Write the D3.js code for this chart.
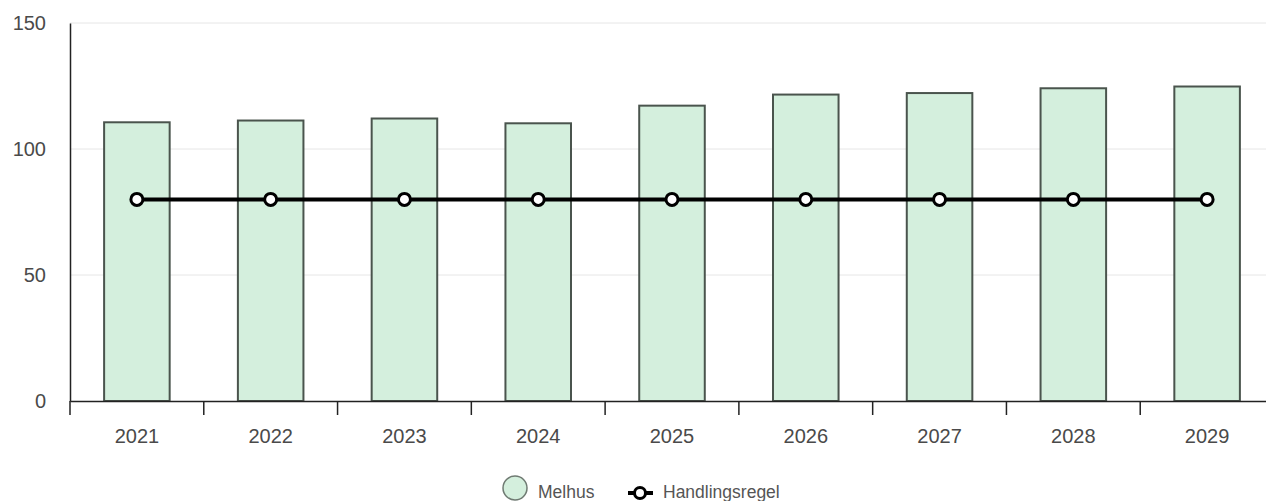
<!DOCTYPE html>
<html>
<head>
<meta charset="utf-8">
<script src="https://cdn.jsdelivr.net/npm/d3@7"></script>
<style>
body{margin:0;background:#fff;overflow:hidden;}
text{font-family:"Liberation Sans",Arial,sans-serif;}
</style>
</head>
<body>
<script>
// data
var years = ["2021","2022","2023","2024","2025","2026","2027","2028","2029"];
var melhus = [110.6, 111.3, 112.1, 110.2, 117.2, 121.6, 122.2, 124.1, 124.8];
var regel = [80, 80, 80, 80, 80, 80, 80, 80, 80];
var yTicks = [0, 50, 100, 150];
var legendNames = ["Melhus", "Handlingsregel"];

var W = 1266, H = 501;
var mLeft = 70, mRight = 1274, mTop = 23, mBottom = 401;

var svg = d3.select("body").append("svg")
    .attr("width", W)
    .attr("height", H);

var x = d3.scaleBand().domain(years).range([mLeft, mRight]).padding(0);
var y = d3.scaleLinear().domain([0, 150]).range([mBottom, mTop]);
var barW = x.bandwidth() * 0.49;

// grid
svg.append("g").selectAll("line")
    .data(yTicks.slice(1))
    .enter().append("line")
    .attr("x1", mLeft).attr("x2", W)
    .attr("y1", function(d){return y(d);})
    .attr("y2", function(d){return y(d);})
    .attr("stroke", "#e6e6e6")
    .attr("stroke-width", 1);

// bars
svg.append("g").selectAll("rect")
    .data(melhus)
    .enter().append("rect")
    .attr("x", function(d,i){return x(years[i]) + x.bandwidth()/2 - barW/2;})
    .attr("y", function(d){return y(d);})
    .attr("width", barW)
    .attr("height", function(d){return y(0) - y(d);})
    .attr("fill", "#d4efdd")
    .attr("stroke", "#4a544d")
    .attr("stroke-width", 2);

// y axis
var yAxis = svg.append("g")
    .attr("transform", "translate(" + mLeft + ",0)")
    .call(d3.axisLeft(y).tickValues(yTicks).tickSize(0).tickPadding(24));
yAxis.select(".domain").attr("stroke", "#222").attr("stroke-width", 1.5);
yAxis.selectAll("text").attr("font-size", 20).attr("fill", "#4a4a4a")
    .attr("font-family", "Liberation Sans, Arial, sans-serif")
    .attr("dy", "0.32em");

// x axis
var xAxis = svg.append("g")
    .attr("transform", "translate(0," + mBottom + ")")
    .call(d3.axisBottom(x).tickSize(0).tickPadding(28));
xAxis.select(".domain").attr("stroke", "#222").attr("stroke-width", 1.5);
xAxis.selectAll("text").attr("font-size", 20).attr("fill", "#4a4a4a")
    .attr("font-family", "Liberation Sans, Arial, sans-serif");
// ticks at band boundaries
xAxis.selectAll(".bt")
    .data(years)
    .enter().append("line")
    .attr("class", "bt")
    .attr("x1", function(d){return x(d);})
    .attr("x2", function(d){return x(d);})
    .attr("y1", 0).attr("y2", 14)
    .attr("stroke", "#222").attr("stroke-width", 1.5);

// line
var line = d3.line()
    .x(function(d,i){return x(years[i]) + x.bandwidth()/2;})
    .y(function(d){return y(d);});
svg.append("path")
    .datum(regel)
    .attr("d", line)
    .attr("fill", "none")
    .attr("stroke", "#000")
    .attr("stroke-width", 4);
svg.append("g").selectAll("circle")
    .data(regel)
    .enter().append("circle")
    .attr("cx", function(d,i){return x(years[i]) + x.bandwidth()/2;})
    .attr("cy", function(d){return y(d);})
    .attr("r", 6)
    .attr("fill", "#fff")
    .attr("stroke", "#000")
    .attr("stroke-width", 3);

// legend
var lg = svg.append("g");
lg.append("circle")
    .attr("cx", 515).attr("cy", 488).attr("r", 12)
    .attr("fill", "#d4efdd").attr("stroke", "#6f7a72").attr("stroke-width", 1.5);
lg.append("text")
    .attr("x", 538).attr("y", 498)
    .attr("font-size", 17.5).attr("fill", "#555")
    .text(legendNames[0]);
lg.append("line")
    .attr("x1", 628).attr("x2", 653).attr("y1", 493).attr("y2", 493)
    .attr("stroke", "#000").attr("stroke-width", 4);
lg.append("circle")
    .attr("cx", 640).attr("cy", 493).attr("r", 5.5)
    .attr("fill", "#fff").attr("stroke", "#000").attr("stroke-width", 3);
lg.append("text")
    .attr("x", 663).attr("y", 498)
    .attr("font-size", 17.5).attr("fill", "#555")
    .text(legendNames[1]);
</script>
</body>
</html>
